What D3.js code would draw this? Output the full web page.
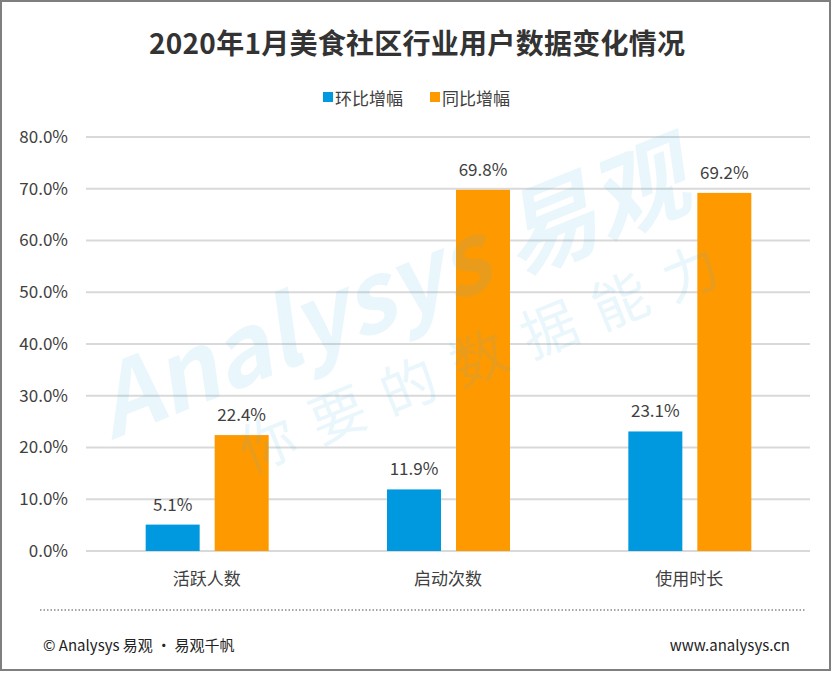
<!DOCTYPE html>
<html>
<head>
<meta charset="utf-8">
<script src="https://cdn.jsdelivr.net/npm/d3@7"></script>
<style>
  body { margin: 0; background: #fff; }
  svg text { font-family: "Noto Sans CJK SC", "Noto Sans", sans-serif; }
</style>
</head>
<body>
<div id="chart"></div>
<script>
var categories = ['活跃人数', '启动次数', '使用时长'];
var seriesNames = ['环比增幅', '同比增幅'];
var momValues = [5.1, 11.9, 23.1];
var yoyValues = [22.4, 69.8, 69.2];
var yTicks = [0, 10, 20, 30, 40, 50, 60, 70, 80];
var colors = ['#0099DF', '#FF9900'];

var width = 834, height = 674;
var margin = {left: 86, right: 24, top: 137, bottom: 123};

var svg = d3.select('#chart').append('svg')
    .attr('width', width)
    .attr('height', height);

// frame
svg.append('rect')
    .attr('x', 1).attr('y', 1)
    .attr('width', 829).attr('height', 669)
    .attr('fill', '#fff')
    .attr('stroke', '#7f7f7f')
    .attr('stroke-width', 2);

svg.append('text')
    .attr('x', 417).attr('y', 54)
    .attr('text-anchor', 'middle')
    .attr('font-size', '28px')
    .attr('font-weight', 'bold')
    .attr('fill', '#333')
    .attr('textLength', 536)
    .text('2020年1月美食社区行业用户数据变化情况');

// legend
var legend = svg.append('g');
var legendX = [323, 430];
seriesNames.forEach(function(name, i){
    legend.append('rect')
        .attr('x', legendX[i]).attr('y', 92)
        .attr('width', 10).attr('height', 10)
        .attr('fill', colors[i]);
    legend.append('text')
        .attr('x', legendX[i] + 12).attr('y', 105)
        .attr('font-size', '17px')
        .attr('fill', '#404040')
        .text(name);
});

var x0 = d3.scaleBand()
    .domain(categories)
    .range([margin.left, width - margin.right]);
var x1 = d3.scaleOrdinal()
    .domain([0, 1])
    .range([-61, 8]);
var barW = 54;
var y = d3.scaleLinear()
    .domain([0, 80])
    .range([height - margin.bottom, margin.top]);

// grid
svg.append('g').selectAll('line').data(yTicks).enter()
    .append('line')
    .attr('x1', margin.left).attr('x2', width - margin.right)
    .attr('y1', function(d){ return y(d); })
    .attr('y2', function(d){ return y(d); })
    .attr('stroke', '#d9d9d9')
    .attr('stroke-width', 2);

var yAxis = d3.axisLeft(y)
    .tickValues(yTicks)
    .tickSize(0)
    .tickPadding(18)
    .tickFormat(function(d){ return d.toFixed(1) + '%'; });
var ya = svg.append('g')
    .attr('transform', 'translate(' + margin.left + ',0)')
    .call(yAxis);
ya.select('.domain').remove();
ya.selectAll('text')
    .attr('font-size', '17px')
    .attr('fill', '#404040');

var xAxis = d3.axisBottom(x0).tickSize(0).tickPadding(22);
var xa = svg.append('g')
    .attr('transform', 'translate(0,' + y(0) + ')')
    .call(xAxis);
xa.select('.domain').remove();
xa.selectAll('text')
    .attr('font-size', '17px')
    .attr('fill', '#404040');

var series = [momValues, yoyValues];
series.forEach(function(vals, s){
    var g = svg.append('g');
    g.selectAll('rect').data(vals).enter()
        .append('rect')
        .attr('x', function(d, i){ return x0(categories[i]) + x0.bandwidth() / 2 + x1(s); })
        .attr('y', function(d){ return y(d); })
        .attr('width', barW)
        .attr('height', function(d){ return y(0) - y(d); })
        .attr('fill', colors[s]);
    g.selectAll('text').data(vals).enter()
        .append('text')
        .attr('x', function(d, i){ return x0(categories[i]) + x0.bandwidth() / 2 + x1(s) + barW / 2; })
        .attr('y', function(d){ return y(d) - 14; })
        .attr('text-anchor', 'middle')
        .attr('font-size', '17px')
        .attr('fill', '#404040')
        .text(function(d){ return d.toFixed(1) + '%'; });
});

// watermark
var wm = svg.append('g')
    .attr('transform', 'translate(112,440) rotate(-22)')
    .attr('fill', '#4db6e6')
    .attr('fill-opacity', 0.12)
    .attr('pointer-events', 'none');
wm.append('text')
    .attr('x', 0).attr('y', 0)
    .attr('font-size', '96px')
    .attr('font-weight', 'bold')
    .attr('font-style', 'italic')
    .attr('font-family', '"Open Sans", sans-serif')
    .text('Analysys 易观');
wm.append('text')
    .attr('x', 115).attr('y', 82)
    .attr('font-size', '56px')
    .attr('letter-spacing', '20px')
    .text('你要的数据能力');

// footer
svg.append('line')
    .attr('x1', 40).attr('x2', 806)
    .attr('y1', 610).attr('y2', 610)
    .attr('stroke', '#888')
    .attr('stroke-width', 1.5)
    .attr('stroke-dasharray', '1.5,2');
svg.append('text')
    .attr('x', 43).attr('y', 651)
    .attr('font-size', '15px')
    .attr('fill', '#222')
    .text('© Analysys 易观 · 易观千帆');
svg.append('text')
    .attr('x', 790).attr('y', 651)
    .attr('text-anchor', 'end')
    .attr('font-size', '15px')
    .attr('fill', '#222')
    .text('www.analysys.cn');
</script>
</body>
</html>
